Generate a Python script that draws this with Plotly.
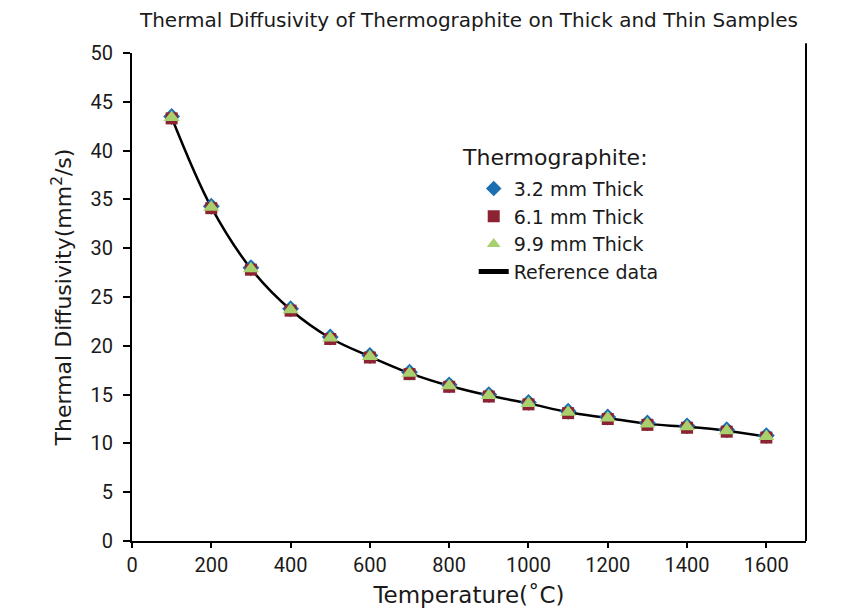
import plotly.graph_objects as go

temps = [100, 200, 300, 400, 500, 600, 700, 800, 900, 1000, 1100, 1200, 1300, 1400, 1500, 1600]
thick_32 = [43.5, 34.3, 28.0, 23.8, 20.9, 19.0, 17.3, 16.0, 15.0, 14.2, 13.3, 12.7, 12.1, 11.8, 11.4, 10.8]
thick_61 = [43.3, 34.1, 27.8, 23.6, 20.7, 18.8, 17.1, 15.8, 14.8, 14.0, 13.1, 12.5, 11.9, 11.6, 11.2, 10.6]
thick_99 = [43.4, 34.2, 27.9, 23.7, 20.8, 18.9, 17.2, 15.9, 14.9, 14.1, 13.2, 12.6, 12.0, 11.7, 11.3, 10.7]
ref_data = [43.4, 34.2, 27.9, 23.7, 20.8, 18.9, 17.2, 15.9, 14.9, 14.1, 13.2, 12.6, 12.0, 11.7, 11.3, 10.7]

TICKFONT = "Roboto"
FONT = "DejaVu Sans"
TXT = "#1a1a1a"

fig = go.Figure()
fig.add_trace(go.Scatter(x=temps, y=ref_data, mode="lines", name="Reference data",
                         line=dict(color="black", width=2.5, shape="spline"), showlegend=False))
fig.add_trace(go.Scatter(x=temps, y=thick_32, mode="markers", name="3.2 mm Thick",
                         marker=dict(symbol="diamond", size=13, color="#1B6FB0")))
fig.add_trace(go.Scatter(x=temps, y=thick_61, mode="markers", name="6.1 mm Thick",
                         marker=dict(symbol="square", size=12, color="#8B2332")))
fig.add_trace(go.Scatter(x=temps, y=thick_99, mode="markers", name="9.9 mm Thick",
                         marker=dict(symbol="triangle-up", size=14, color="#A9D06E")))
fig.add_trace(go.Scatter(x=[None], y=[None], mode="lines", name="Reference data",
                         line=dict(color="black", width=2.5)))

fig.update_layout(
    width=835, height=600,
    margin=dict(l=124, r=37, t=45, b=67),
    paper_bgcolor="white", plot_bgcolor="white",
    font=dict(family=FONT, size=20, color=TXT),
    title=dict(text="Thermal Diffusivity of Thermographite on Thick and Thin Samples",
               x=0.5, xref="paper", y=0.98, yref="container", xanchor="center", yanchor="middle",
               font=dict(family=FONT, size=20, color=TXT)),
    xaxis=dict(range=[0, 1700], tickvals=list(range(0, 1601, 200)), showgrid=False,
               zeroline=False, showline=True, linecolor="black", linewidth=2, automargin=False,
               ticks="outside", ticklen=5, tickcolor="black", tickwidth=1.5,
               title=dict(text="Temperature(˚C)", standoff=20, font=dict(family=FONT, size=23)),
               tickfont=dict(family=TICKFONT, size=20)),
    yaxis=dict(range=[0, 50], tickvals=list(range(0, 51, 5)), showgrid=False,
               zeroline=False, showline=True, linecolor="black", linewidth=2, automargin=False,
               ticks="outside", ticklen=7, tickcolor="black", tickwidth=1.5, ticklabelstandoff=6,
               title=dict(text="Thermal Diffusivity(mm<sup>2</sup>/s)", standoff=13,
                          font=dict(family=FONT, size=22)),
               tickfont=dict(family=TICKFONT, size=20)),
    legend=dict(x=0.507, y=0.761, xanchor="left", yanchor="top", bgcolor="rgba(0,0,0,0)",
                font=dict(family=FONT, size=19), tracegroupgap=0, itemsizing="constant"),
    showlegend=True,
)
fig.add_annotation(text="Thermographite:", xref="paper", yref="paper", x=0.487, y=0.785,
                   xanchor="left", yanchor="middle", showarrow=False,
                   font=dict(family=FONT, size=22, color=TXT))
fig.add_shape(type="line", xref="paper", yref="paper", x0=1, x1=1, y0=0, y1=1.02,
              line=dict(color="black", width=2))

fig.write_html("out.html")
